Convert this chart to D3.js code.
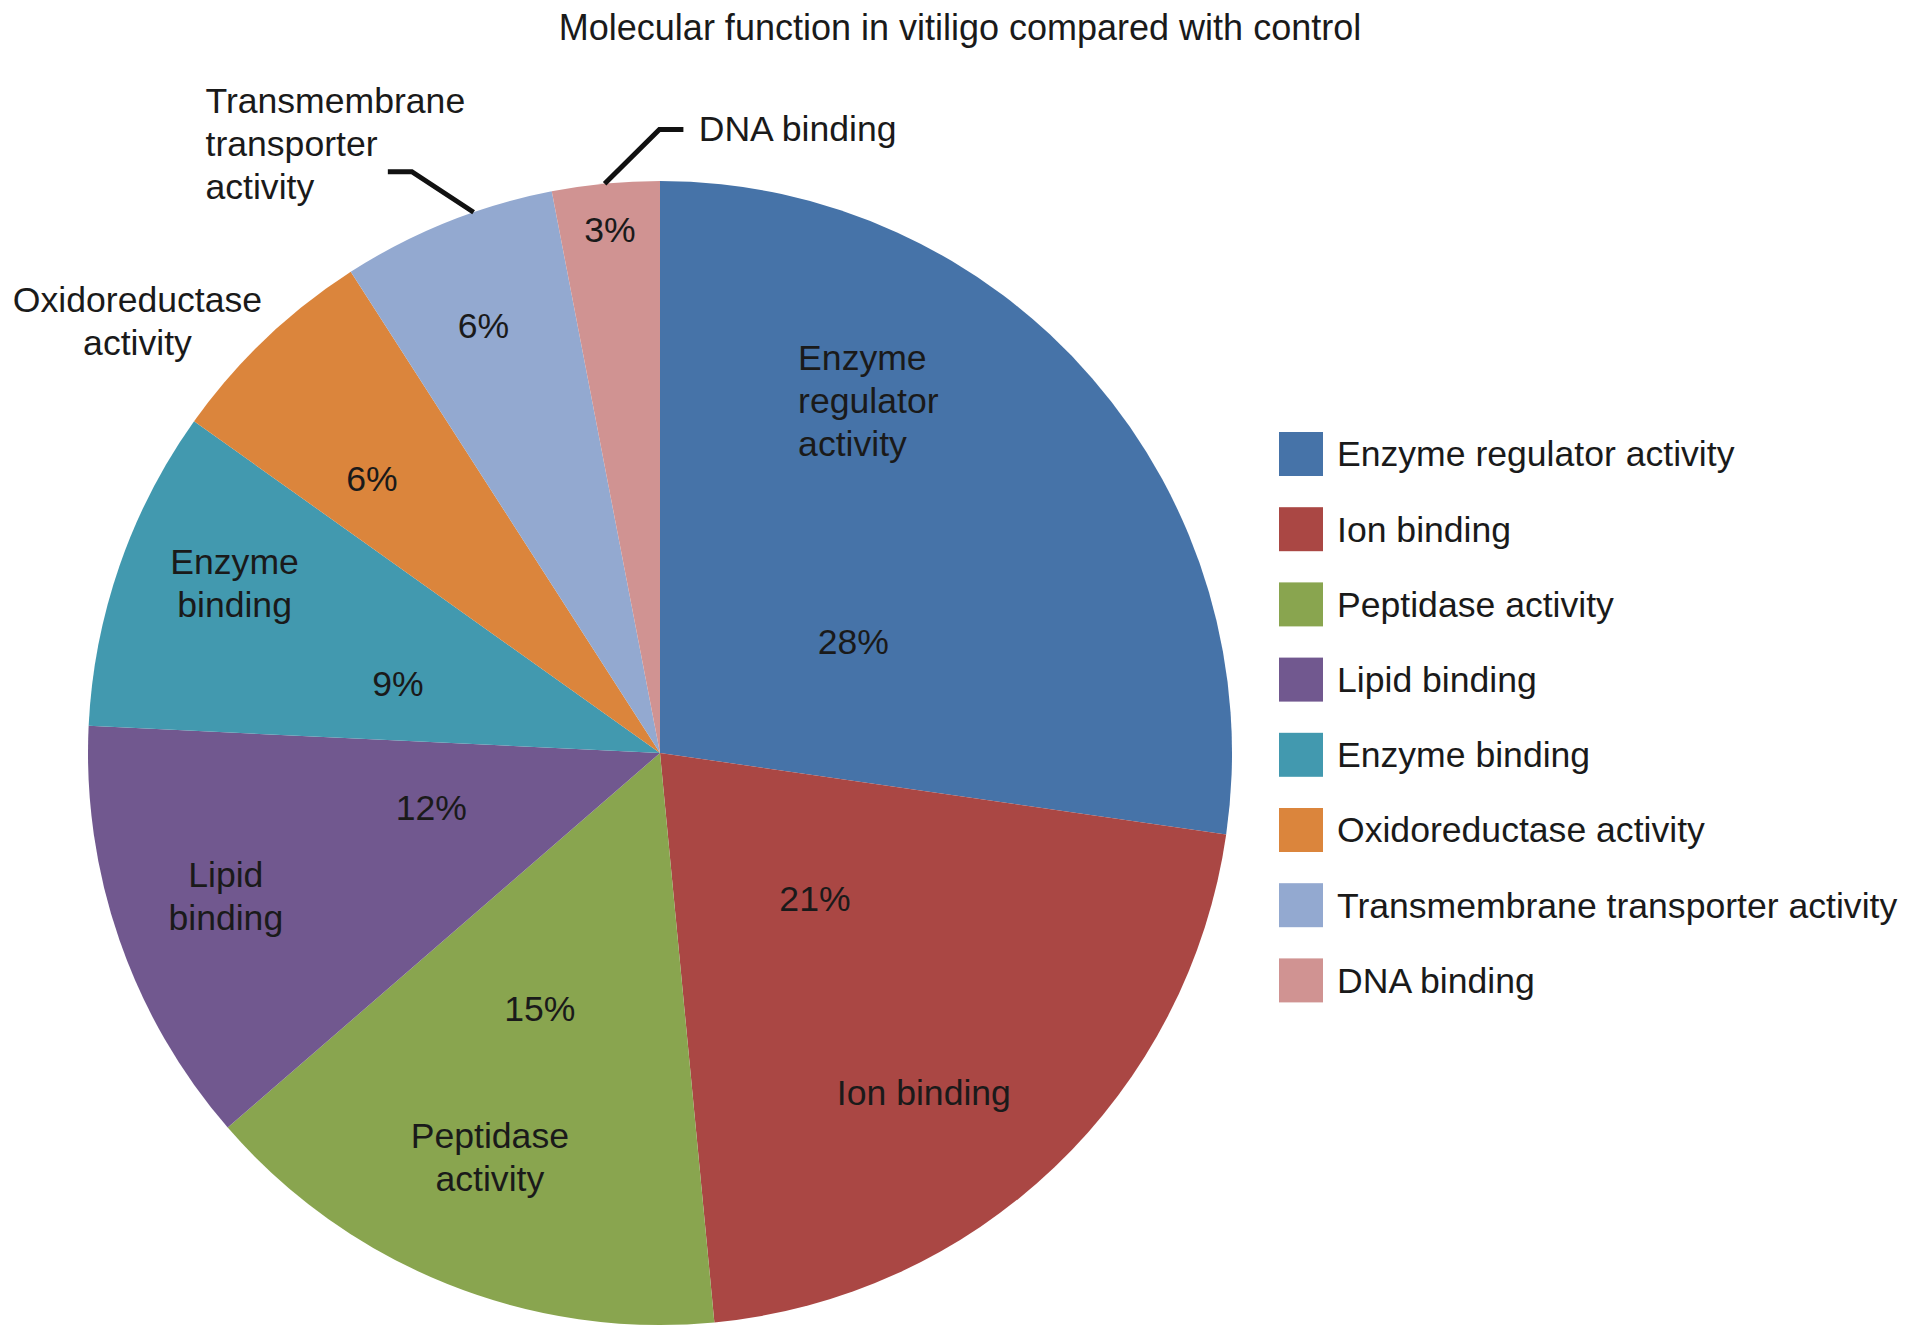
<!DOCTYPE html>
<html>
<head>
<meta charset="utf-8">
<script src="https://cdn.jsdelivr.net/npm/d3@7"></script>
<style>
  body { margin: 0; background: #fff; }
  text { font-family: "Liberation Sans", Arial, Helvetica, sans-serif; fill: #1a1a1a; }
</style>
</head>
<body>
<div class="chart"></div>
<script>
// data
var categories = ["Enzyme regulator activity", "Ion binding", "Peptidase activity", "Lipid binding",
  "Enzyme binding", "Oxidoreductase activity", "Transmembrane transporter activity", "DNA binding"];
var counts = [9, 7, 5, 4, 3, 2, 2, 1];
var pctLabels = ["28%", "21%", "15%", "12%", "9%", "6%", "6%", "3%"];
var sliceNames = [["Enzyme", "regulator", "activity"], ["Ion binding"], ["Peptidase", "activity"],
  ["Lipid", "binding"], ["Enzyme", "binding"], ["Oxidoreductase", "activity"],
  ["Transmembrane", "transporter", "activity"], ["DNA binding"]];
var colors = ["#4673A8", "#AA4744", "#89A54F", "#71588F", "#4299AF", "#DB853C", "#93A9D0", "#D09392"];

// where the labels go, relative to the slice middle: [angle offset (deg), radius factor]
var pctPlace = [[11, 0.39], [-3.1, 0.372], [3.4, 0.493], [5.6, 0.411], [-4.3, 0.474], [-2.7, 0.696], [-0.6, 0.809], [0, 0.92]];
var namePlace = [[-27.7, 0.662, "start"], [5.8, 0.752, "middle"], [1.0, 0.767, "middle"], [0.9, 0.799, "middle"],
  [2.7, 0.801, "middle"], [-6.8, 1.185, "middle"], [-14.9, 1.329, "start"], [9.0, 1.094, "start"]];

var width = 1913, height = 1340;
var cx = 660, cy = 753, radius = 572;
var fontSize = 35.6, lineH = 43;

var svg = d3.select("div.chart").append("svg").attr("width", width).attr("height", height);

svg.append("text")
  .attr("x", 960).attr("y", 27).attr("dy", "0.35em")
  .attr("text-anchor", "middle")
  .attr("font-size", "36px")
  .text("Molecular function in vitiligo compared with control");

var g = svg.append("g").attr("transform", "translate(" + cx + "," + cy + ")");

var pie = d3.pie().value(function(d) { return d; }).sort(null);
var arcs = pie(counts);

var arc = d3.arc().innerRadius(0).outerRadius(radius);

g.selectAll(".slice")
  .data(arcs)
  .enter()
  .append("path")
  .attr("class", "slice")
  .attr("d", arc)
  .attr("fill", function(d, i) { return colors[i]; });

var rad = Math.PI / 180;
function midAngle(d) { return (d.startAngle + d.endAngle) / 2; }
function place(d, p) { return d3.pointRadial(midAngle(d) + p[0] * rad, p[1] * radius); }

// percentage labels
g.selectAll(".pct")
  .data(arcs)
  .enter()
  .append("text")
  .attr("class", "pct")
  .attr("transform", function(d, i) { return "translate(" + place(d, pctPlace[i]) + ")"; })
  .attr("dy", "0.35em")
  .attr("text-anchor", "middle")
  .attr("font-size", fontSize + "px")
  .text(function(d, i) { return pctLabels[i]; });

// category labels
var names = g.selectAll(".name")
  .data(arcs)
  .enter()
  .append("text")
  .attr("class", "name")
  .attr("transform", function(d, i) { return "translate(" + place(d, namePlace[i]) + ")"; })
  .attr("text-anchor", function(d, i) { return namePlace[i][2]; })
  .attr("font-size", fontSize + "px");

names.each(function(d, i) {
  var lines = sliceNames[i];
  d3.select(this).selectAll("tspan")
    .data(lines)
    .enter()
    .append("tspan")
    .attr("x", 0)
    .attr("y", function(t, j) { return (j - (lines.length - 1) / 2) * lineH; })
    .attr("dy", "0.35em")
    .text(function(t) { return t; });
});

// leader lines for the two small slices
var leaders = [
  { i: 6, pts: [[2.8, 1.0], [-1.3, 1.105]], tail: -24 },
  { i: 7, pts: [[-0.1, 1.0], [5.4, 1.09]], tail: 24 }
];
leaders.forEach(function(l) {
  var d = arcs[l.i];
  var p = l.pts.map(function(q) { return place(d, q); });
  var last = p[p.length - 1];
  p.push([last[0] + l.tail, last[1]]);
  g.append("path")
    .attr("d", d3.line()(p))
    .attr("fill", "none")
    .attr("stroke", "#111")
    .attr("stroke-width", 5);
});

// legend
var legend = svg.append("g").attr("transform", "translate(1279,454)");
var item = legend.selectAll(".item")
  .data(categories)
  .enter()
  .append("g")
  .attr("class", "item")
  .attr("transform", function(d, i) { return "translate(0," + (i * 75.2) + ")"; });

item.append("rect")
  .attr("x", 0).attr("y", -22)
  .attr("width", 44).attr("height", 44)
  .attr("fill", function(d, i) { return colors[i]; });

item.append("text")
  .attr("x", 58).attr("y", 0).attr("dy", "0.35em")
  .attr("font-size", fontSize + "px")
  .text(function(d) { return d; });
</script>
</body>
</html>
